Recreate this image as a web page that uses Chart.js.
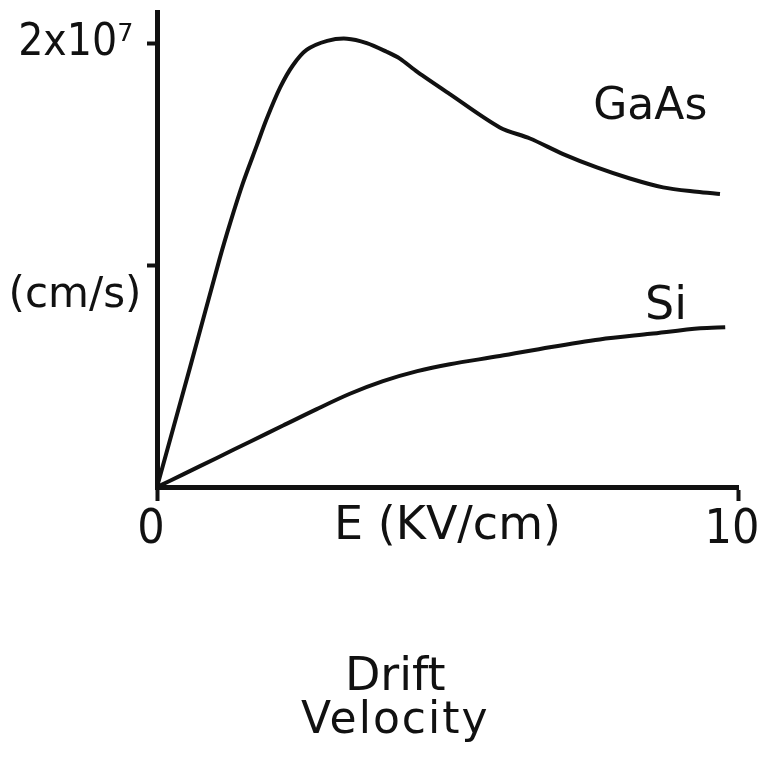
<!DOCTYPE html>
<html>
<head>
<meta charset="utf-8">
<script src="https://cdn.jsdelivr.net/npm/chart.js@4"></script>
<style>
    html, body { margin: 0; padding: 0; background: #fff; }
    #wrap { width: 759px; height: 757px; }
</style>
</head>
<body>
<div id="wrap"><canvas id="driftChart"></canvas></div>
<script>
// Field strength E (kV/cm) and drift velocity (units of 1e7 cm/s)
const gaasE = [0, 0.57, 1.08, 1.26, 1.48, 1.72, 1.89, 2.12, 2.34, 2.58, 2.93, 3.27, 3.61, 3.96, 4.18, 4.48, 5.04, 5.90, 6.42, 6.99, 7.57, 8.14, 8.71, 9.29, 9.69];
const gaasV = [0, 0.54, 1.03, 1.19, 1.37, 1.54, 1.66, 1.80, 1.90, 1.97, 2.01, 2.02, 2.00, 1.96, 1.93, 1.87, 1.77, 1.62, 1.57, 1.50, 1.44, 1.39, 1.35, 1.33, 1.32];

const siE = [0, 0.45, 1.03, 1.60, 2.17, 2.75, 3.32, 3.89, 4.48, 5.04, 5.90, 6.76, 7.62, 8.49, 9.35, 9.78];
const siV = [0, 0.057, 0.131, 0.204, 0.277, 0.351, 0.42, 0.477, 0.522, 0.553, 0.59, 0.63, 0.665, 0.69, 0.715, 0.72];

const xTicks = [0, 10];
const yTicks = [1, 2];
const yTickLabels = { 2: '2x10⁷' };

const INK = '#111';
const FONT = "'DejaVu Sans', sans-serif";
const NUM_FONT = "'DejaVu Sans Condensed', 'DejaVu Sans', sans-serif";

const toPoints = (xs, ys) => xs.map((x, i) => ({ x: x, y: ys[i] }));

// curve names and axis captions, placed in data units
const curveLabels = [
    { text: 'GaAs', x: 8.49, y: 1.71, size: 44 },
    { text: 'Si', x: 8.76, y: 0.81, size: 46 }
];
const titleLines = ['Drift', 'Velocity'];

const captionPlugin = {
    id: 'captions',
    afterDraw(chart) {
        const { ctx, scales, chartArea } = chart;
        ctx.save();
        ctx.fillStyle = INK;
        ctx.textAlign = 'center';
        ctx.textBaseline = 'middle';
        curveLabels.forEach(l => {
            ctx.font = `${l.size}px ${FONT}`;
            ctx.fillText(l.text, scales.x.getPixelForValue(l.x), scales.y.getPixelForValue(l.y));
        });
        // units on the velocity axis
        ctx.font = `42px ${FONT}`;
        ctx.fillText('(cm/s)', chartArea.left - 82, scales.y.getPixelForValue(0.86));
        // field axis name, in line with the tick labels
        ctx.font = `46px ${FONT}`;
        ctx.fillText('E (KV/cm)', scales.x.getPixelForValue(5), chartArea.bottom + 40);
        // caption under the plot
        ctx.textBaseline = 'alphabetic';
        ctx.font = `46px ${FONT}`;
        const cx = scales.x.getPixelForValue(4.1);
        ctx.fillText(titleLines[0], cx, chartArea.bottom + 203);
        ctx.font = `44px ${FONT}`;
        ctx.letterSpacing = '2px';
        ctx.fillText(titleLines[1], cx, chartArea.bottom + 246);
        ctx.restore();
    }
};

const lineStyle = {
    borderColor: INK,
    borderWidth: 4,
    pointRadius: 0,
    fill: false,
    tension: 0.3
};

// drop the extra room Chart.js keeps for end tick labels
const noEdgePadding = s => {
    s.paddingLeft = 0;
    s.paddingRight = 0;
    s.paddingTop = 0;
    s.paddingBottom = 0;
};

new Chart(document.getElementById('driftChart'), {
    type: 'line',
    data: {
        datasets: [
            { label: 'GaAs', data: toPoints(gaasE, gaasV), ...lineStyle },
            { label: 'Si', data: toPoints(siE, siV), ...lineStyle }
        ]
    },
    options: {
        responsive: true,
        maintainAspectRatio: false,
        animation: false,
        layout: { padding: { top: 12, right: 21, left: 0, bottom: 0 } },
        plugins: {
            legend: { display: false },
            tooltip: { enabled: false },
            title: { display: false }
        },
        scales: {
            x: {
                type: 'linear',
                min: 0,
                max: 10,
                afterFit: s => { s.height = 270; noEdgePadding(s); },
                afterBuildTicks: s => { s.ticks = xTicks.map(v => ({ value: v })); },
                grid: { drawOnChartArea: false, drawTicks: true, tickLength: 14, tickColor: INK, tickWidth: 4 },
                border: { display: true, color: INK, width: 5 },
                ticks: {
                    color: INK,
                    padding: 1,
                    labelOffset: -6,
                    maxRotation: 0,
                    font: { family: NUM_FONT, size: 48 },
                    callback: v => String(v)
                }
            },
            y: {
                type: 'linear',
                min: 0,
                max: 2.14,
                afterFit: s => { s.width = 157; noEdgePadding(s); },
                afterBuildTicks: s => { s.ticks = yTicks.map(v => ({ value: v })); },
                grid: { drawOnChartArea: false, drawTicks: true, tickLength: 10, tickColor: INK, tickWidth: 4 },
                border: { display: true, color: INK, width: 5 },
                ticks: {
                    color: INK,
                    padding: 14,
                    font: { family: NUM_FONT, size: 44 },
                    callback: v => yTickLabels[v] || ''
                }
            }
        }
    },
    plugins: [captionPlugin]
});
</script>
</body>
</html>
